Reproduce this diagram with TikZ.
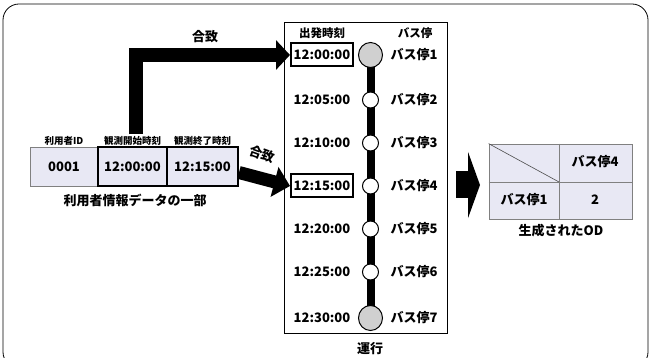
\documentclass[tikz,border=0pt]{standalone}
\usepackage{fontspec}
\setmainfont{Noto Sans CJK JP}
\usetikzlibrary{arrows.meta,calc,shapes.geometric}
\definecolor{cellfill}{HTML}{E8E8F4}
\definecolor{stopgray}{HTML}{D0D0D0}
\begin{document}
\begin{tikzpicture}[x=1pt,y=-1pt,
  every node/.style={font=\bfseries\fontsize{13}{15}\selectfont, inner sep=0pt},
  small/.style={font=\bfseries\fontsize{9.5}{11}\selectfont},
  head/.style={font=\bfseries\fontsize{11.5}{13}\selectfont},
  cell/.style={fill=cellfill, minimum height=39pt},
  thincell/.style={cell, draw=gray, line width=0.8pt},
  thickcell/.style={cell, draw=black, line width=2pt},
  timebox/.style={draw=black, line width=2pt, minimum width=62pt, minimum height=23pt},
  bigstop/.style={ellipse, draw=black, line width=1pt, fill=stopgray, minimum width=24pt, minimum height=25pt},
  smallstop/.style={circle, draw=black, line width=1pt, fill=white, minimum size=16pt},
  blockarrow/.style={line width=#1, draw=black}
]
\useasboundingbox (0,0) rectangle (651,358);
% outer frame
\draw[line width=0.8pt, rounded corners=16pt] (3,4) rectangle (648,368);

% left table
\node[thincell, minimum width=68pt] (c1) at (64,166.5) {0001};
\node[thickcell, minimum width=69pt] (c2) at (132.5,166.5) {12:00:00};
\node[thickcell, minimum width=71pt] (c3) at (202.5,166.5) {12:15:00};
\node[small] (l1) at (64,141) {利用者ID};
\node[small] (l2) at (132.5,141) {観測開始時刻};
\node[small] (l3) at (202.5,141) {観測終了時刻};
\node (cap1) at (135,200) {利用者情報データの一部};

% timetable
\node[draw=black, line width=0.8pt, minimum width=163pt, minimum height=311pt] (tt) at (365.5,177.5) {};
\node[head] (h1) at (322,33) {出発時刻};
\node[head] (h2) at (415,33) {バス停};
\foreach \i/\y in {1/55,2/100,3/143,4/186,5/229,6/272,7/318}{
  \coordinate (p\i) at (370.5,\y);
}
\draw[line width=8pt] (p1) -- (p7);
\foreach \i/\t/\y in {1/12:00:00/55,2/12:05:00/100,3/12:10:00/143,4/12:15:00/186,5/12:20:00/229,6/12:25:00/272,7/12:30:00/318}{
  \node (t\i) at (322,\y) {\t};
  \node (s\i) at (414,\y) {バス停\i};
}
\node[timebox] (b1) at (t1) {};
\node[timebox] (b4) at (t4) {};
\node[bigstop] (st1) at (p1) {};
\node[bigstop] (st7) at (p7) {};
\foreach \i in {2,...,6}{ \node[smallstop] (st\i) at (p\i) {}; }
\node (cap2) at (370,349) {運行};

% arrows
\coordinate (a1s) at ($(l2.north)+(3.5,-2)$);
\draw[blockarrow=14pt, -{Triangle[length=14pt,width=29pt]}] (a1s) |- (b1.west);
\node (m1) at (205,37) {合致};
\draw[blockarrow=13pt, -{Triangle[length=16pt,width=30pt]}] ($(c3.east)+(0,6)$) -- (b4.west);
\node[rotate=-20] (m2) at (262,154) {合致};

\coordinate (ra) at (456,185);
\coordinate (rb) at (480,185);
\draw[blockarrow=27pt, -{Triangle[length=12pt,width=66pt]}] (ra) -- (rb);

% OD table
\node[draw=gray, fill=cellfill, line width=0.8pt, minimum width=143pt, minimum height=75pt] (od) at (560.5,181.5) {};
\coordinate (odm) at (559,182);
\draw[gray, line width=0.8pt] (odm |- od.north) -- (odm |- od.south);
\draw[gray, line width=0.8pt] (odm -| od.west) -- (odm -| od.east);
\draw[black!70, line width=0.6pt] (od.north west) -- (odm);
\node (o1) at (595,162) {バス停4};
\node (o2) at (524,200) {バス停1};
\node (o3) at (595,200) {2};
\node (cap3) at (561,231) {生成されたOD};
\end{tikzpicture}
\end{document}
